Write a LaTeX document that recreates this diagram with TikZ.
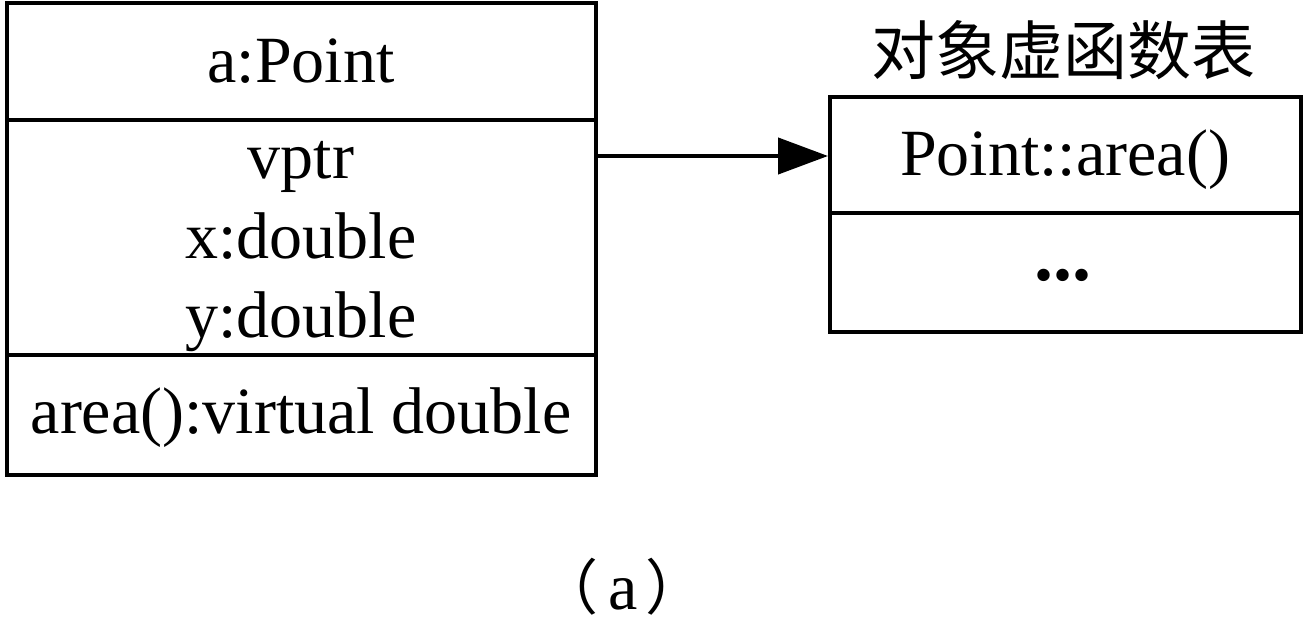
\documentclass[tikz,border=0pt]{standalone}
\usepackage{fontspec}
\setmainfont{Liberation Serif}
\newfontfamily\cjk{Noto Sans CJK SC}
\usetikzlibrary{arrows.meta}
\begin{document}
\begin{tikzpicture}[x=1pt,y=-1pt,
  box/.style={draw=black,line width=4.3pt},
  txt/.style={inner sep=0pt,anchor=base,font=\fontsize{66}{79}\selectfont},
  cjktxt/.style={inner sep=0pt,font=\fontsize{64}{70}\selectfont\cjk}]
\useasboundingbox (0,0) rectangle (1306,631);
% left box
\draw[box] (7,3) rectangle (596,475);
\draw[box] (7,120) -- (596,120);
\draw[box] (7,355) -- (596,355);
\node[txt] (name) at (301,83) {a:Point};
\node[txt] (vptr) at (301,179) {vptr};
\node[txt] (xd) at (301,258) {x:double};
\node[txt] (yd) at (301,337) {y:double};
\node[txt] (area) at (301,433) {area():virtual double};
% right box
\draw[box] (830,97) rectangle (1301,332);
\draw[box] (830,213) -- (1301,213);
\node[txt] (pa) at (1065,176) {Point::area()};
\node[txt,font=\fontsize{76}{79}\selectfont\bfseries] (dots) at (1063,280) {...};
\coordinate (src) at (596,156);
\coordinate (dst) at (828,156);
\draw[line width=4.3pt,-{Triangle[length=50pt,width=36pt]}] (src) -- (dst);
\node[cjktxt] (title) at (1063,50) {对象虚函数表};
\node[inner sep=0pt] (cap) at (622,587) {\fontsize{60}{70}\selectfont{\cjk （}\hspace{10pt}\fontsize{66}{70}\selectfont a\hspace{8pt}{\cjk \fontsize{60}{70}\selectfont ）}};
\end{tikzpicture}
\end{document}
